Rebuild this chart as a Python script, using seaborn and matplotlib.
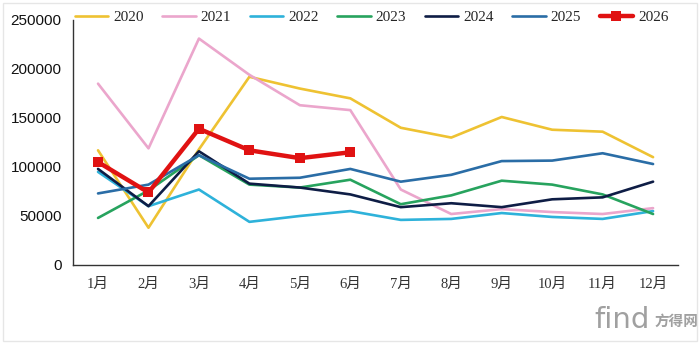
import numpy as np
import pandas as pd
import matplotlib
matplotlib.use('Agg')
import matplotlib.pyplot as plt
import seaborn as sns

# 数据
months = ['1月', '2月', '3月', '4月', '5月', '6月', '7月', '8月', '9月', '10月', '11月', '12月']
years = ['2020', '2021', '2022', '2023', '2024', '2025', '2026']
v2020 = [117000, 38000, 118000, 192000, 180000, 170000, 140000, 130000, 151000, 138000, 136000, 110000]
v2021 = [185000, 119000, 231000, 194000, 163000, 158000, 77000, 52000, 57000, 54000, 52000, 58000]
v2022 = [95000, 60000, 77000, 44000, 50000, 55000, 46000, 47000, 53000, 49000, 47000, 55000]
v2023 = [48000, 76000, 112000, 82000, 79000, 87000, 62000, 71000, 86000, 82000, 72000, 52000]
v2024 = [98000, 60000, 116000, 83000, 79000, 72000, 59000, 63000, 59000, 67000, 69000, 85000]
v2025 = [73000, 82000, 112000, 88000, 89000, 98000, 85000, 92000, 106000, 106500, 114000, 103000]
v2026 = [105000, 74000, 139000, 117000, 109000, 115000]

colors = {'2020': '#EEC232', '2021': '#EBA6CC', '2022': '#2EB2DA', '2023': '#27A35E',
          '2024': '#0E1D45', '2025': '#2A6DA6', '2026': '#E01212'}

series = [v2020, v2021, v2022, v2023, v2024, v2025, v2026]
rows = []
for y, vals in zip(years, series):
    for i, v in enumerate(vals):
        rows.append({'year': y, 'idx': i, 'value': v})
df = pd.DataFrame(rows)

sns.set_style('white')
plt.rcParams['font.family'] = ['Liberation Sans', 'Noto Sans CJK SC']

fig = plt.figure(figsize=(7, 3.44), dpi=100)
ax = fig.add_axes([0.104, 0.2297, 0.865, 0.7123])

for y in years:
    d = df[df['year'] == y]
    if y == '2026':
        sns.lineplot(data=d, x='idx', y='value', ax=ax, color=colors[y], linewidth=3.2,
                     marker='s', markersize=7.5, markeredgewidth=0, label=y)
    else:
        sns.lineplot(data=d, x='idx', y='value', ax=ax, color=colors[y], linewidth=1.9, label=y)

ax.set_xlim(-0.5, 11.5)
ax.set_ylim(0, 250000)
ax.set_yticks(range(0, 250001, 50000))
ax.set_yticklabels([str(v) for v in range(0, 250001, 50000)], fontsize=11, color='#111111')
ax.set_xticks(np.arange(-0.5, 12, 1))
ax.set_xticklabels([])
ax.set_xticks(np.arange(12), minor=True)
ax.set_xticklabels(months, minor=True, fontsize=10.5, color='#333333',
                   family=['Liberation Serif', 'Noto Sans CJK SC'])
ax.tick_params(axis='x', which='major', direction='out', length=5, width=1, color='#333333')
ax.tick_params(axis='x', which='minor', length=0, pad=9)
ax.tick_params(axis='y', direction='out', length=5, width=1, color='#333333', pad=3)
ax.set_xlabel('')
ax.set_ylabel('')
for s in ['top', 'right']:
    ax.spines[s].set_visible(False)
for s in ['left', 'bottom']:
    ax.spines[s].set_color('#333333')
    ax.spines[s].set_linewidth(1.0)

ax.legend(loc='center', bbox_to_anchor=(0.531, 0.95), bbox_transform=fig.transFigure,
          ncol=7, frameon=False, handlelength=2.2, handletextpad=0.33, columnspacing=1.2,
          prop={'family': 'Liberation Serif', 'size': 11})

# 外框和水印
fig.patches.append(plt.Rectangle((0.004, 0.01), 0.992, 0.98, transform=fig.transFigure,
                                 fill=False, edgecolor='#e6e6e6', linewidth=1))
fig.text(0.928, 0.03, 'find', fontsize=21, color='#a0a0a0', ha='right', va='bottom',
         family='DejaVu Sans')
fig.text(0.998, 0.045, '方得网', fontsize=10.5, color='#a0a0a0', ha='right', va='bottom',
         family='Noto Sans CJK SC', fontweight='bold')

fig.savefig('out.png', dpi=100)
